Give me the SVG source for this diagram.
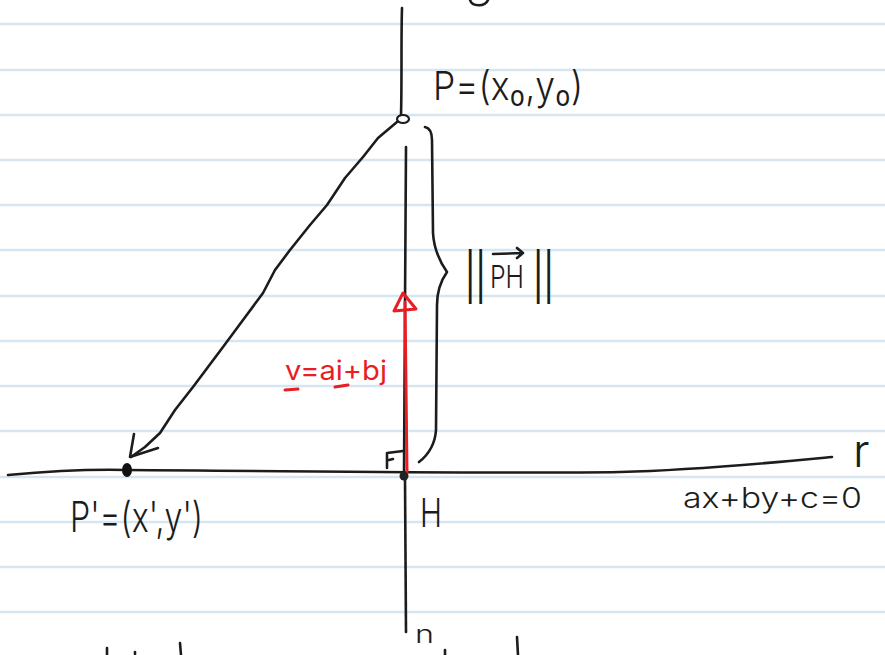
<svg xmlns="http://www.w3.org/2000/svg" width="885" height="655" viewBox="0 0 885 655">
<style>
.rule{stroke:#d5e5f1;stroke-width:2.5}
.ink{fill:none;stroke:#1c1c1c;stroke-width:2.6;stroke-linecap:round;stroke-linejoin:round}
.red{fill:none;stroke:#ea1c24;stroke-width:3;stroke-linecap:round;stroke-linejoin:round}
.t{font-family:Inter,"Open Sans","DejaVu Sans",sans-serif;font-weight:300;fill:#1c1c1c}
.bar{font-family:Inter,"Open Sans","DejaVu Sans",sans-serif;font-weight:300;fill:#1c1c1c;letter-spacing:-4px}
.tr{font-family:Inter,"Open Sans","DejaVu Sans",sans-serif;font-weight:400;fill:#ea1c24}
</style>
<rect width="885" height="655" fill="#ffffff"/>
<g id="paper">
<line class="rule" x1="0" y1="24" x2="885" y2="24"/>
<line class="rule" x1="0" y1="70" x2="885" y2="70"/>
<line class="rule" x1="0" y1="115" x2="885" y2="115"/>
<line class="rule" x1="0" y1="160" x2="885" y2="160"/>
<line class="rule" x1="0" y1="205" x2="885" y2="205"/>
<line class="rule" x1="0" y1="250" x2="885" y2="250"/>
<line class="rule" x1="0" y1="296" x2="885" y2="296"/>
<line class="rule" x1="0" y1="341" x2="885" y2="341"/>
<line class="rule" x1="0" y1="386" x2="885" y2="386"/>
<line class="rule" x1="0" y1="431" x2="885" y2="431"/>
<line class="rule" x1="0" y1="477" x2="885" y2="477"/>
<line class="rule" x1="0" y1="522" x2="885" y2="522"/>
<line class="rule" x1="0" y1="567" x2="885" y2="567"/>
<line class="rule" x1="0" y1="612" x2="885" y2="612"/>
</g>
<g id="fragments" class="ink">
<path d="M470,0 C472,7 485,7 488,0"/>
<path d="M107,648 L107,655"/>
<path d="M180,643 L181,655"/>
<path d="M135,652 L135,654"/>
<path d="M445,650 L445,655"/>
<path d="M517,637 L518,655"/>
</g>
<g id="connectors">
<path class="ink" d="M402,8 C401,40 402,80 401,115"/>
<path class="ink" d="M406,147 C405,250 405,380 404,474"/>
<path class="ink" d="M405,478 L406,632"/>
<path class="ink" d="M8,475 C40,472 80,469 126,470 C300,471 500,474 620,472 C700,470 780,462 832,457"/>
<path class="ink" d="M397,122 L378,138 L363,157 L345,178 L327,205 L310,225 L290,250 L275,270 L263,293 L243,320 L223,347 L208,367 L193,387 L175,410 L160,433 L145,447 L131,457"/>
<path class="ink" d="M134,434 L130,457 L158,448"/>
<path class="ink" d="M425,127 C430,128 432,132 432,140 L433,233 C434,250 440,262 447,272 C440,282 437,292 437,305 L436,430 C435,445 428,455 419,462"/>
<path class="ink" d="M387,468 L387,453 L403,451 M389,460 L393,459" stroke-width="2"/>
<path class="red" d="M407,472 L405,302"/>
<path class="red" d="M403,293 L394,311 L416,309 Z" stroke-width="3.5"/>
<path class="red" d="M285,390 L298,389 M335,387 L348,385" stroke-width="2.5"/>
<path class="ink" d="M493,254 L523,253 M517,248 L523,253 L517,258" stroke-width="2"/>
</g>
<g id="P">
<ellipse cx="403" cy="119" rx="6" ry="4" fill="#fff" stroke="#1c1c1c" stroke-width="2.2"/>
<text class="t" x="433" y="100" font-size="40" textLength="150" lengthAdjust="spacingAndGlyphs">P=(x₀,y₀)</text>
</g>
<g id="H">
<circle cx="404" cy="476" r="4.5" fill="#222"/>
<text class="t" x="420" y="527" font-size="40" textLength="22" lengthAdjust="spacingAndGlyphs">H</text>
</g>
<g id="Pprime">
<ellipse cx="127" cy="470" rx="5" ry="7" fill="#111"/>
<text class="t" x="70" y="532" font-size="42" textLength="133" lengthAdjust="spacingAndGlyphs">P'=(x',y')</text>
</g>
<g id="labels">
<text class="bar" x="463" y="293" font-size="46">||</text>
<text class="t" x="490" y="288" font-size="31" textLength="34" lengthAdjust="spacingAndGlyphs">PH</text>
<text class="bar" x="531" y="293" font-size="46">||</text>
<text class="tr" x="285" y="380" font-size="27" textLength="102" lengthAdjust="spacingAndGlyphs">v=ai+bj</text>
<text class="t" x="683" y="508" font-size="28" textLength="179" lengthAdjust="spacingAndGlyphs">ax+by+c=0</text>
<text class="t" x="853" y="467" font-size="46">r</text>
<text class="t" x="415" y="643" font-size="24" textLength="19" lengthAdjust="spacingAndGlyphs">n</text>
</g>
</svg>
